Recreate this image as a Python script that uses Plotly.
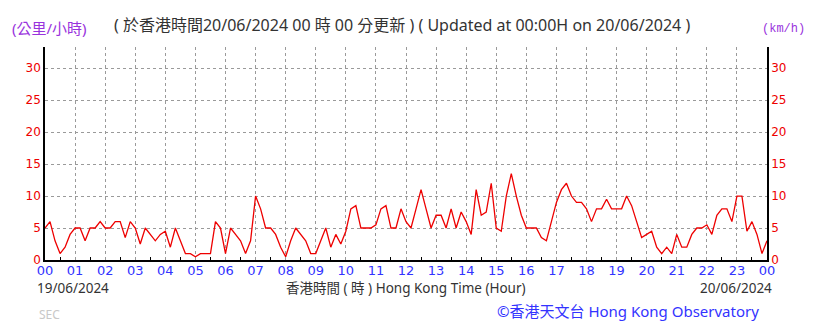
import plotly.graph_objects as go

# 10-minute wind speed readings (km/h), 00:00 19/06 to 00:00 20/06
speed = [
    5, 6, 3, 1, 2, 4,          # 00
    5, 5, 3, 5, 5, 6,          # 01
    5, 5, 6, 6, 3.5, 6,        # 02
    5, 2.5, 5, 4, 3, 4,        # 03
    4.5, 2, 5, 3, 1, 1,        # 04
    0.5, 1, 1, 1, 6, 5,        # 05
    1, 5, 4, 3, 1, 3,          # 06
    10, 8, 5, 5, 4, 2,         # 07
    0.5, 3, 5, 4, 3, 1,        # 08
    1, 3, 5, 2, 4, 2.5,        # 09
    4.5, 8, 8.5, 5, 5, 5,      # 10
    5.5, 8, 8.5, 5, 5, 8,      # 11
    6, 5, 8, 11, 8, 5,         # 12
    7, 7, 5, 8, 5, 7.5,        # 13
    6, 4, 11, 7, 7.5, 12,      # 14
    5, 4.5, 10, 13.5, 10, 7,   # 15
    5, 5, 5, 3.5, 3, 6,        # 16
    9, 11, 12, 10, 9, 9,       # 17
    8, 6, 8, 8, 9.5, 8,        # 18
    8, 8, 10, 8.5, 6, 3.5,     # 19
    4, 4.5, 2, 1, 2, 1,        # 20
    4, 2, 2, 4, 5, 5,          # 21
    5.5, 4, 7, 8, 8, 6,        # 22
    10, 10, 4.5, 6, 4, 1,      # 23
    3,                         # 24
]
hours = [i / 6 for i in range(len(speed))]

x_tickvals = list(range(25))
x_ticktext = [f"{h % 24:02d}" for h in range(25)]
y_tickvals = [0, 5, 10, 15, 20, 25, 30]

RED = "#ee0000"
BLUE = "#3333ff"
PURPLE = "#9933dd"
GRID = "#9a9a9a"
FONT = "Noto Sans, Noto Sans CJK TC, sans-serif"

L, R, T, B = 45, 767, 47, 260

fig = go.Figure()
fig.add_trace(go.Scatter(x=hours, y=speed, mode="lines",
                         line=dict(color=RED, width=1.3), hoverinfo="skip",
                         showlegend=False))
fig.add_trace(go.Scatter(x=hours, y=speed, mode="lines", yaxis="y2",
                         line=dict(color="rgba(0,0,0,0)", width=0),
                         hoverinfo="skip", showlegend=False))

fig.update_layout(
    width=819, height=323,
    margin=dict(l=L, r=819 - R, t=T, b=323 - B, pad=0),
    paper_bgcolor="white", plot_bgcolor="white",
    font=dict(family=FONT, size=12, color="#333333"),
    xaxis=dict(range=[0, 24], tickvals=x_tickvals, ticktext=x_ticktext,
               showgrid=True, gridcolor=GRID, griddash="dot", gridwidth=1,
               zeroline=False, showline=True, linecolor="black", linewidth=2,
               ticks="", ticklen=0, ticklabelstandoff=-3,
               tickfont=dict(family="DejaVu Sans, sans-serif", size=13, color=BLUE),
               minor=dict(tick0=0.5, dtick=1, ticks="inside", ticklen=3,
                          tickcolor="black", showgrid=False)),
    yaxis=dict(range=[0, 33.3], tickvals=y_tickvals,
               showgrid=True, gridcolor=GRID, griddash="dot", gridwidth=1,
               zeroline=False, showline=True, linecolor="black", linewidth=1.5,
               ticks="", tickfont=dict(family="DejaVu Sans, sans-serif", size=12, color=RED)),
    yaxis2=dict(range=[0, 33.3], tickvals=y_tickvals, overlaying="y", side="right",
                showgrid=False, zeroline=False, showline=True, linecolor="black",
                linewidth=1.5, ticks="",
                tickfont=dict(family="DejaVu Sans, sans-serif", size=12, color=RED)),
)

ann = [
    dict(x=10, y=28, text="(公里/小時)", color=PURPLE, size=15, xanchor="left", family=FONT),
    dict(x=402, y=25, text="( 於香港時間20/06/2024 00 時 00 分更新 ) ( Updated at 00:00H on 20/06/2024 )",
         color="#333333", size=16, xanchor="center", family=FONT),
    dict(x=760, y=29, text="(km/h)", color=PURPLE, size=12, xanchor="left",
         family="Liberation Mono, monospace"),
    dict(x=35, y=288, text="19/06/2024", color="#333333", size=13.5, xanchor="left", family=FONT),
    dict(x=406, y=288, text="香港時間 ( 時 ) Hong Kong Time (Hour)", color="#333333",
         size=13.5, xanchor="center", family=FONT),
    dict(x=774, y=288, text="20/06/2024", color="#333333", size=13.5, xanchor="right", family=FONT),
    dict(x=761, y=311, text="©香港天文台 Hong Kong Observatory", color=BLUE, size=15,
         xanchor="right", family=FONT),
    dict(x=37, y=314, text="SEC", color="#c8c8c8", size=12, xanchor="left", family=FONT),
]
for a in ann:
    fig.add_annotation(x=(a["x"] - L) / (R - L), y=(B - a["y"]) / (B - T),
                       xref="paper", yref="paper",
                       text=a["text"], showarrow=False, xanchor=a["xanchor"], yanchor="middle",
                       font=dict(family=a["family"], size=a["size"], color=a["color"]))

fig.write_html("out.html")
